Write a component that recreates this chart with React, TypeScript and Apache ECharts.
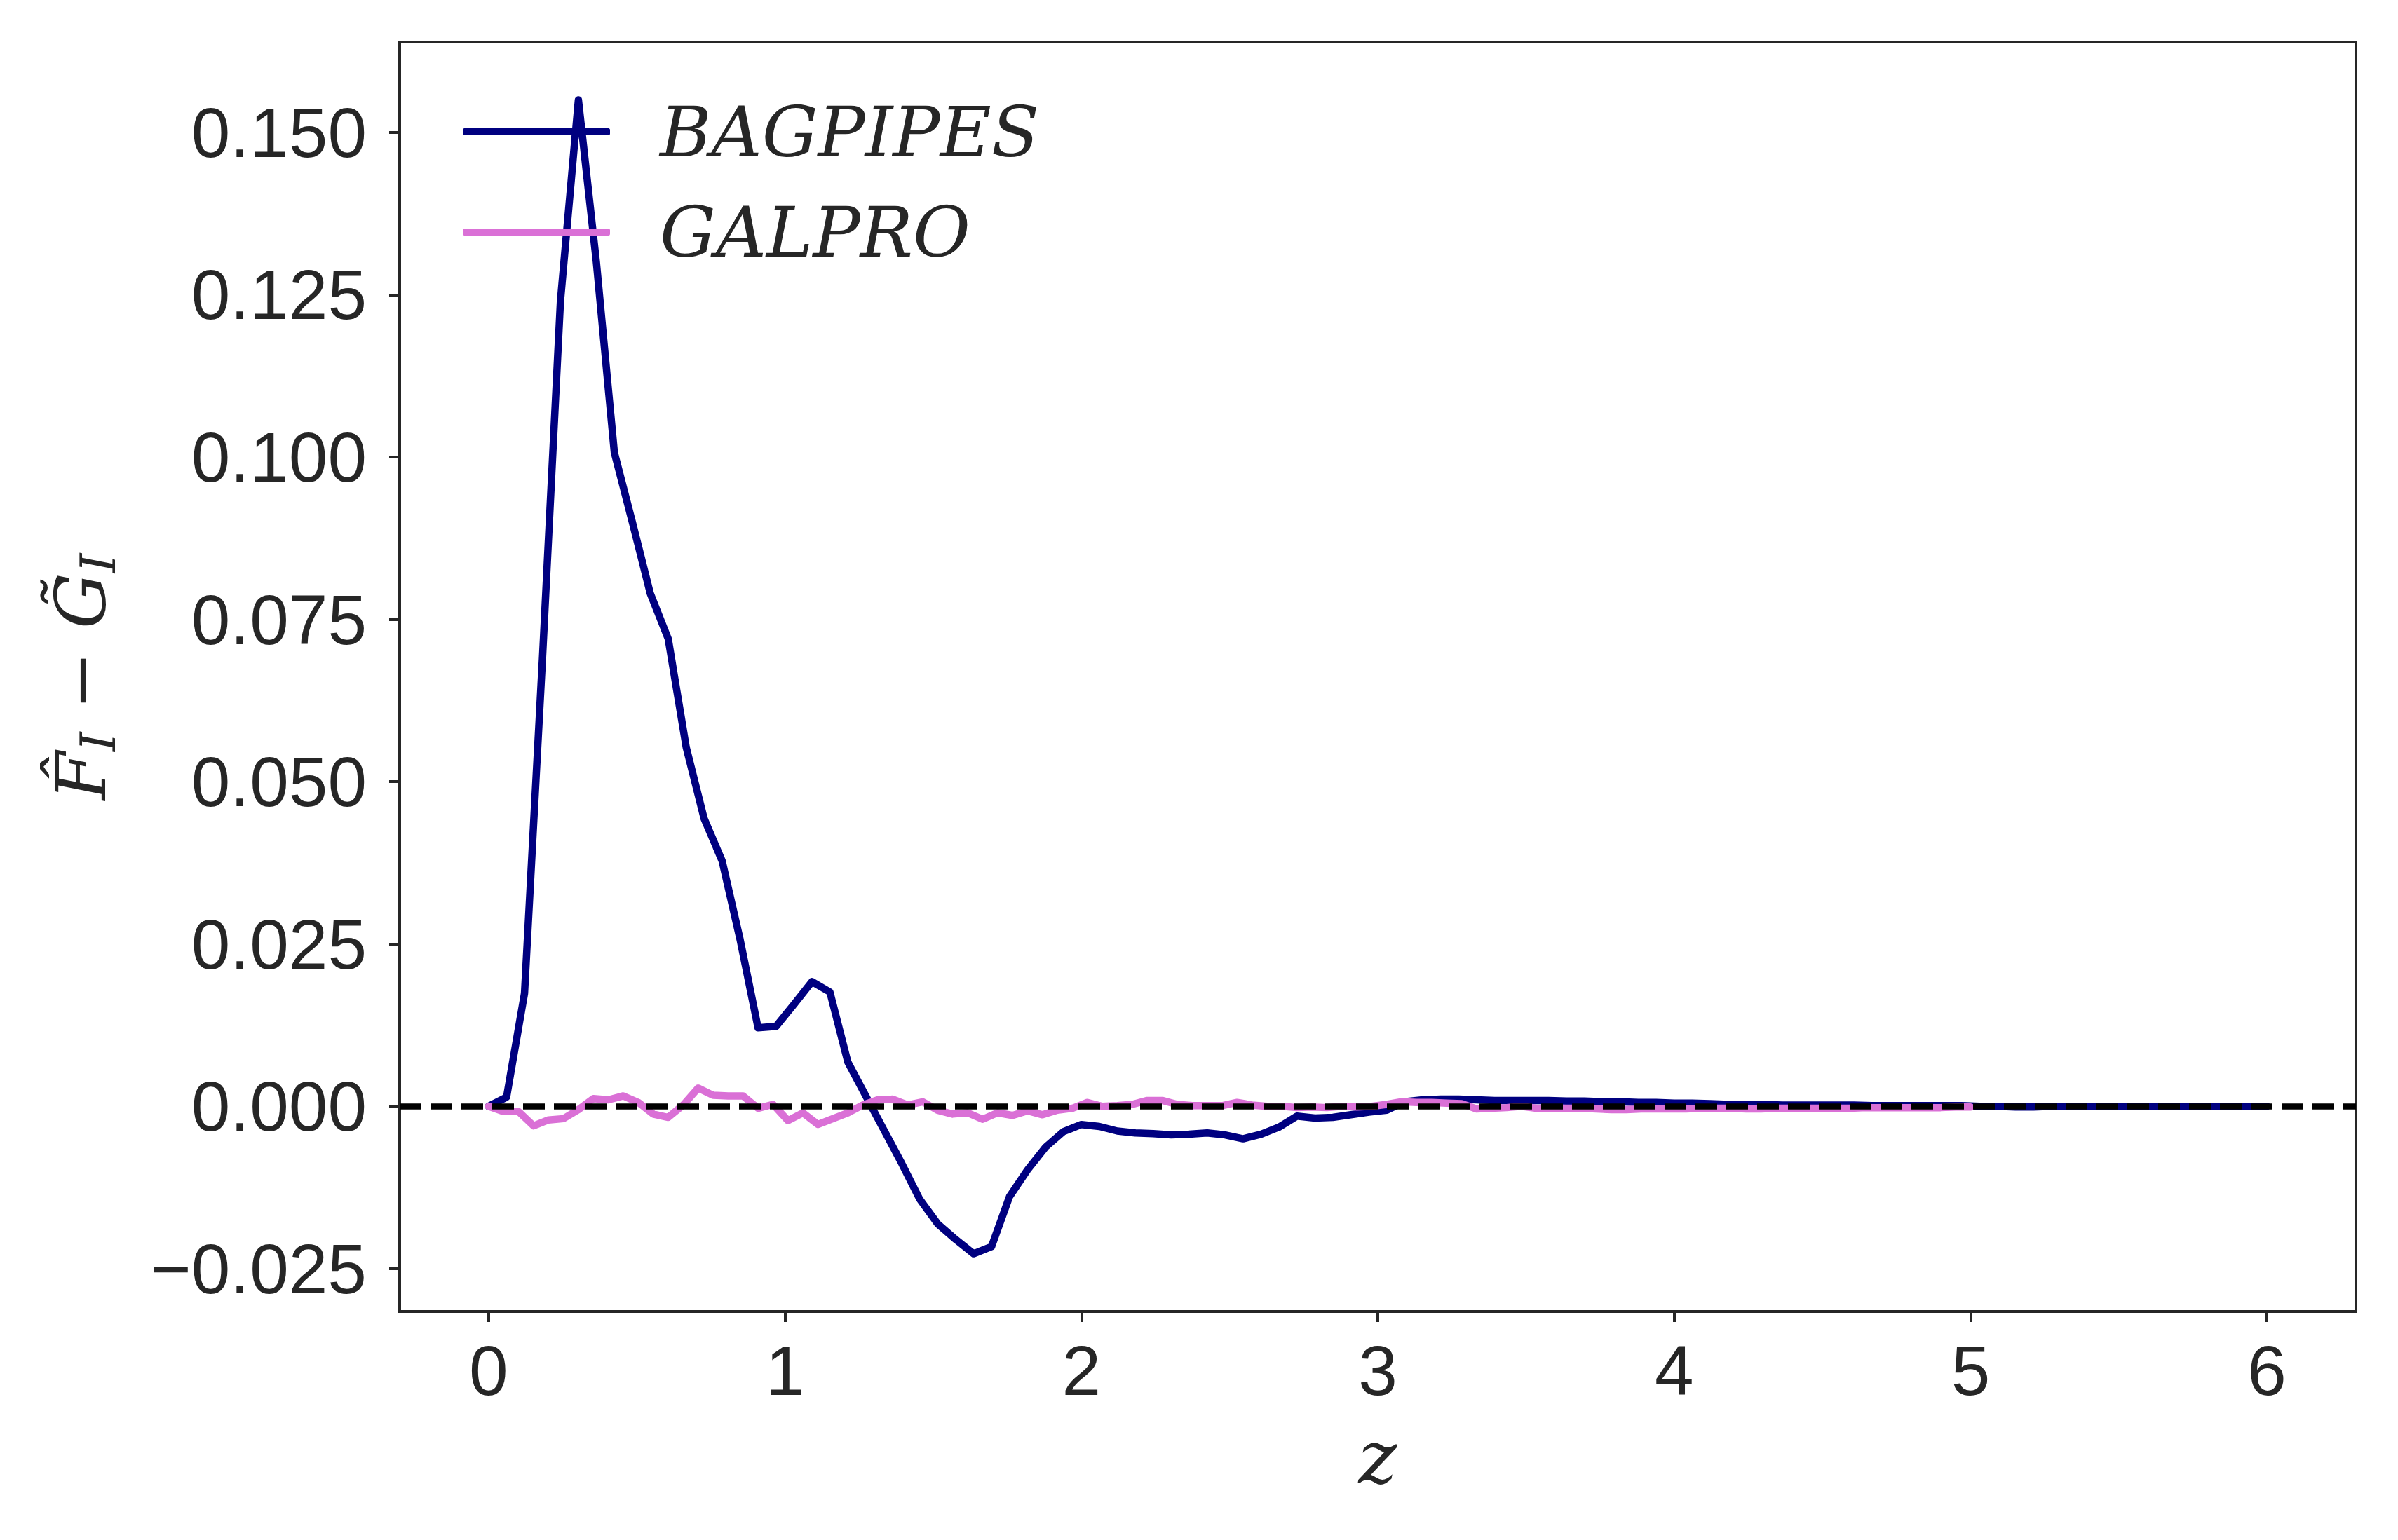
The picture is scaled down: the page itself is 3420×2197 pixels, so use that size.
import React, { useEffect, useRef } from "react";
import * as echarts from "echarts";

// BAGPIPES: sampled on 100 equally spaced z values from 0 to 6
const BAGPIPES: number[] = [
  0.0, 0.0014, 0.0174, 0.069, 0.124, 0.155, 0.130, 0.1007, 0.090, 0.0790,
  0.0720, 0.0553, 0.0443, 0.0378, 0.0257, 0.0121, 0.0123, 0.0157, 0.0192, 0.0176,
  0.0068, 0.0016, -0.0036, -0.0088, -0.0143, -0.0181, -0.0205, -0.0227, -0.0216, -0.0139,
  -0.0098, -0.0063, -0.0039, -0.0028, -0.0031, -0.0038, -0.0041, -0.0042, -0.0044, -0.0043,
  -0.0041, -0.0044, -0.0050, -0.0043, -0.0032, -0.0015, -0.0018, -0.0017, -0.0013, -0.0009,
  -0.0006, 0.0007, 0.0010, 0.0011, 0.0011, 0.0010, 0.0009, 0.0009, 0.0009, 0.0009,
  0.0008, 0.0008, 0.0007, 0.0007, 0.0006, 0.0006, 0.0005, 0.0005, 0.0004, 0.0003,
  0.0003, 0.0003, 0.0002, 0.0002, 0.0002, 0.0002, 0.0002, 0.0001, 0.0001, 0.0001,
  0.0001, 0.0001, 0.0001, 0.0, 0.0, -0.0001, -0.0001, 0.0, 0.0, 0.0,
  0.0, 0.0, 0.0, 0.0, 0.0, 0.0, 0.0, 0.0, 0.0, 0.0,
];
const BAGPIPES_ZMAX = 6;

// GALPRO: sampled on 100 equally spaced z values from 0 to 5
const GALPRO: number[] = [
  0.0, -0.0008, -0.0008, -0.0030, -0.0021, -0.0019, -0.0005, 0.0012, 0.0010, 0.0016,
  0.0006, -0.0012, -0.0017, 0.0002, 0.0028, 0.0017, 0.0016, 0.0016, -0.0003, 0.0003,
  -0.0022, -0.0010, -0.0028, -0.0019, -0.0010, 0.0002, 0.0010, 0.0011, 0.0002, 0.0007,
  -0.0006, -0.0012, -0.0010, -0.0020, -0.0010, -0.0014, -0.0007, -0.0013, -0.0006, -0.0003,
  0.0006, 0.0000, 0.0001, 0.0003, 0.0009, 0.0009, 0.0003, 0.0001, 0.0001, 0.0001,
  0.0006, 0.0002, 0.0000, 0.0000, -0.0002, -0.0001, -0.0002, 0.0000, -0.0001, 0.0000,
  0.0003, 0.0007, 0.0006, 0.0006, 0.0005, 0.0004, -0.0004, -0.0003, -0.0002, 0.0000,
  -0.0003, -0.0003, -0.0003, -0.0003, -0.0004, -0.0005, -0.0005, -0.0004, -0.0004, -0.0004,
  -0.0004, -0.0003, -0.0003, -0.0003, -0.0004, -0.0004, -0.0003, -0.0003, -0.0003, -0.0003,
  -0.0003, -0.0003, -0.0002, -0.0002, -0.0002, -0.0002, -0.0002, -0.0002, -0.0001, -0.0001,
];
const GALPRO_ZMAX = 5;

const X_TICKS = [0, 1, 2, 3, 4, 5, 6];
const Y_TICKS = [-0.025, 0, 0.025, 0.05, 0.075, 0.1, 0.125, 0.15];

const NAVY = "#000080";
const ORCHID = "#DA70D6";
const INK = "#262626";

function pairs(vals: number[], zmax: number): [number, number][] {
  const n = vals.length - 1;
  return vals.map((v, i) => [(zmax * i) / n, v]);
}

export default function App() {
  const ref = useRef<HTMLDivElement>(null);

  useEffect(() => {
    if (!ref.current) return;
    const chart = echarts.init(ref.current, undefined, { renderer: "svg" });
    const tickFont = {
      fontFamily: "Liberation Sans",
      fontSize: 100,
      color: INK,
    };
    chart.setOption({
      animation: false,
      backgroundColor: "#ffffff",
      grid: {
        left: 570,
        right: 60,
        top: 60,
        bottom: 326,
        show: true,
        borderColor: INK,
        borderWidth: 4,
        backgroundColor: "transparent",
      },
      legend: {
        data: [
          { name: "BAGPIPES", icon: "roundRect", itemStyle: { color: NAVY } },
          { name: "GALPRO", icon: "roundRect", itemStyle: { color: ORCHID } },
        ],
        orient: "vertical",
        left: 655,
        top: 128,
        itemWidth: 210,
        itemHeight: 10,
        itemGap: 33,
        textStyle: {
          fontFamily: "DejaVu Serif",
          fontStyle: "italic",
          fontSize: 100,
          lineHeight: 110,
          color: INK,
          padding: [0, 0, 0, 66],
        },
      },
      xAxis: {
        type: "value",
        min: -0.3,
        max: 6.3,
        splitLine: { show: false },
        axisLine: { show: true, onZero: false, lineStyle: { color: INK, width: 4 } },
        axisTick: {
          show: true,
          length: 15,
          customValues: X_TICKS,
          lineStyle: { color: INK, width: 4 },
        },
        axisLabel: {
          ...tickFont,
          margin: 34,
          customValues: X_TICKS,
          formatter: (v: number) => String(v),
        },
        name: "z",
        nameLocation: "middle",
        nameGap: 156,
        nameTextStyle: {
          fontFamily: "DejaVu Serif",
          fontStyle: "italic",
          fontSize: 104,
          color: INK,
        },
      },
      yAxis: {
        type: "value",
        min: -0.0316,
        max: 0.1639,
        splitLine: { show: false },
        axisLine: { show: true, onZero: false, lineStyle: { color: INK, width: 4 } },
        axisTick: {
          show: true,
          length: 15,
          customValues: Y_TICKS,
          lineStyle: { color: INK, width: 4 },
        },
        axisLabel: {
          ...tickFont,
          margin: 47,
          customValues: Y_TICKS,
          formatter: (v: number) =>
            (v < 0 ? "\u2212" : "") + Math.abs(v).toFixed(3),
        },
        name: "{m|F\u0302}{s|I}{o| \u2212 }{m|G\u0303}{s|I}",
        nameLocation: "middle",
        nameRotate: 90,
        nameGap: 395,
        nameTextStyle: {
          color: INK,
          rich: {
            m: {
              fontFamily: "DejaVu Serif",
              fontStyle: "italic",
              fontSize: 100,
              lineHeight: 120,
              color: INK,
            },
            o: {
              fontFamily: "DejaVu Serif",
              fontSize: 100,
              lineHeight: 120,
              color: INK,
            },
            s: {
              fontFamily: "DejaVu Serif",
              fontStyle: "italic",
              fontSize: 70,
              lineHeight: 70,
              verticalAlign: "bottom",
              color: INK,
            },
          },
        },
      },
      series: [
        {
          name: "BAGPIPES",
          type: "line",
          data: pairs(BAGPIPES, BAGPIPES_ZMAX),
          showSymbol: false,
          symbol: "none",
          color: NAVY,
          lineStyle: { color: NAVY, width: 10.5, cap: "round", join: "round" },
          z: 2,
        },
        {
          name: "GALPRO",
          type: "line",
          data: pairs(GALPRO, GALPRO_ZMAX),
          showSymbol: false,
          symbol: "none",
          color: ORCHID,
          lineStyle: { color: ORCHID, width: 10.5, cap: "round", join: "round" },
          z: 3,
        },
        {
          name: "zero",
          type: "line",
          data: [],
          silent: true,
          z: 4,
          markLine: {
            silent: true,
            symbol: ["none", "none"],
            label: { show: false },
            lineStyle: { color: "#000000", width: 8.5, type: [31, 13] },
            data: [{ yAxis: 0 }],
          },
        },
      ],
    });
    return () => chart.dispose();
  }, []);

  return (
    <div
      ref={ref}
      style={{ position: "fixed", left: 0, top: 0, width: 3420, height: 2197 }}
    />
  );
}
